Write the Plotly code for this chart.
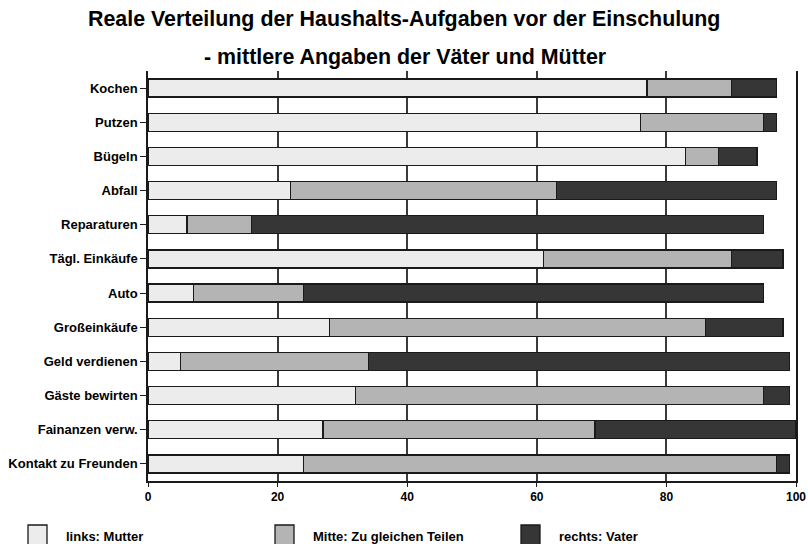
import plotly.graph_objs as go

# Data (Prozent, gelesen aus der Vorlage)
aufgaben = ['Kochen', 'Putzen', 'Bügeln', 'Abfall', 'Reparaturen', 'Tägl. Einkäufe',
            'Auto', 'Großeinkäufe', 'Geld verdienen', 'Gäste bewirten',
            'Fainanzen verw.', 'Kontakt zu Freunden']
mutter = [77, 76, 83, 22, 6, 61, 7, 28, 5, 32, 27, 24]
gleich = [13, 19, 5, 41, 10, 29, 17, 58, 29, 63, 42, 73]
vater = [7, 2, 6, 34, 79, 8, 71, 12, 65, 4, 31, 2]
x_ticks = [0, 20, 40, 60, 80, 100]

namen = ['links: Mutter', 'Mitte: Zu gleichen Teilen', 'rechts: Vater']
farben = ['#ececec', '#b4b4b4', '#363636']

font_fam = 'Liberation Sans, Arial, sans-serif'
W, H = 808, 544
L, R, T, B = 148, 12, 71, 63
pw, ph = W - L - R, H - T - B


def px_x(p):
    # pixel -> paper x
    return (p - L) / pw


def px_y(p):
    # pixel -> paper y
    return (H - B - p) / ph


fig = go.Figure()
for werte, name, farbe in zip([mutter, gleich, vater], namen, farben):
    fig.add_trace(go.Bar(
        x=werte, y=aufgaben, orientation='h', name=name,
        marker=dict(color=farbe, line=dict(color='#1a1a1a', width=1.3)),
        showlegend=False, hoverinfo='x+name'))

fig.update_layout(
    barmode='stack',
    bargap=0.47,
    width=W, height=H,
    margin=dict(l=L, r=R, t=T, b=B, autoexpand=False),
    paper_bgcolor='white', plot_bgcolor='white',
    font=dict(family=font_fam, size=12, color='black'),
)

# Titel (zwei Zeilen, weiter Abstand)
fig.add_annotation(text='<b>Reale Verteilung der Haushalts-Aufgaben vor der Einschulung</b>',
                   xref='paper', yref='paper', x=px_x(404), y=px_y(19),
                   xanchor='center', yanchor='middle', showarrow=False,
                   font=dict(size=21.4, family=font_fam, color='black'))
fig.add_annotation(text='<b>- mittlere Angaben der Väter und Mütter</b>',
                   xref='paper', yref='paper', x=px_x(405), y=px_y(57),
                   xanchor='center', yanchor='middle', showarrow=False,
                   font=dict(size=21.4, family=font_fam, color='black'))

# Legende von Hand
leg_x = [28, 275, 521]
for lx, name, farbe in zip(leg_x, namen, farben):
    fig.add_shape(type='rect', xref='paper', yref='paper',
                  x0=px_x(lx), x1=px_x(lx + 19), y0=px_y(525), y1=px_y(546),
                  fillcolor=farbe, line=dict(color='#1a1a1a', width=1.3))
    fig.add_annotation(text='<b>' + name + '</b>', xref='paper', yref='paper',
                       x=px_x(lx + 36), y=px_y(536), xanchor='left', yanchor='middle',
                       showarrow=False, font=dict(size=13, family=font_fam, color='black'))

fig.update_xaxes(range=[0, 100], tickvals=x_ticks,
                 ticktext=['<b>%d</b>' % v for v in x_ticks],
                 showgrid=True, gridcolor='#3a3a3a', gridwidth=1.5,
                 showline=True, linecolor='#1a1a1a', linewidth=1.5,
                 ticks='outside', ticklen=4, tickcolor='#1a1a1a',
                 tickfont=dict(size=12, family=font_fam, color='black'),
                 zeroline=False, fixedrange=True, automargin=False)
fig.update_yaxes(autorange='reversed', showgrid=False,
                 showline=True, mirror=True, linecolor='#1a1a1a', linewidth=1.5,
                 ticks='outside', ticklen=6, tickcolor='#1a1a1a',
                 tickprefix='<b>', ticksuffix='</b>',
                 tickfont=dict(size=13, family=font_fam, color='black'),
                 fixedrange=True, automargin=False)

# page margin weg, damit das Bild bei (0,0) beginnt
fig.write_html("out.html", config={'displayModeBar': False},
               post_script="document.body.style.margin='0px';")
